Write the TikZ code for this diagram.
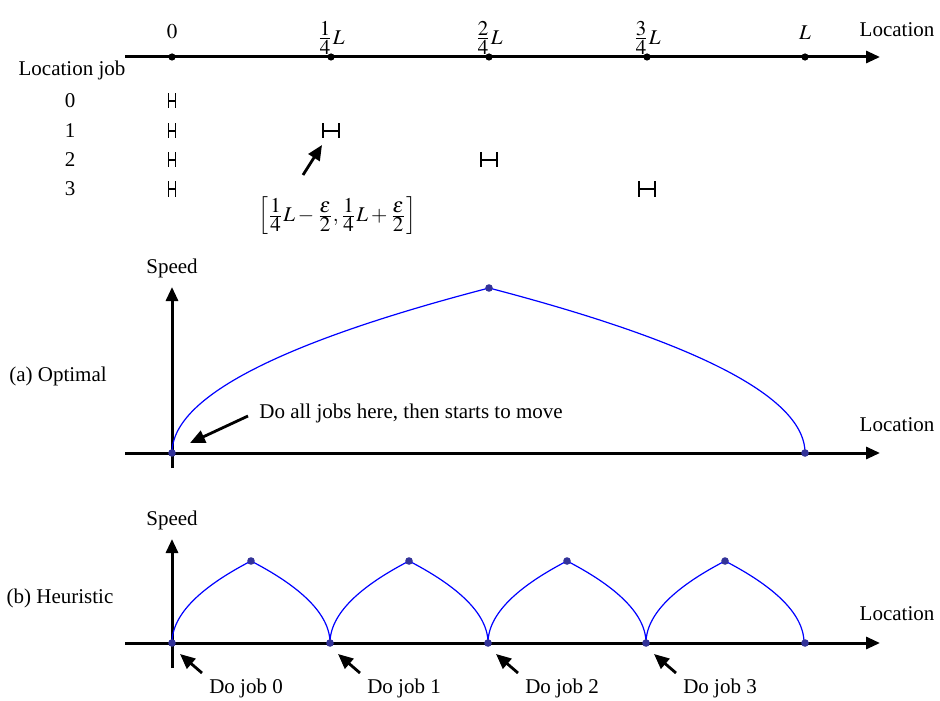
\documentclass[tikz,border=0pt]{standalone}
\usepackage{amsmath}
\usepackage{mathptmx}
\usepackage{fontspec}
\setmainfont{Liberation Serif}
\usetikzlibrary{arrows.meta}

\newcommand{\qfrac}[2]{\frac{\textstyle #1}{\textstyle #2}}

\tikzset{
  axis/.style={line width=1.5pt,-{Triangle[length=7pt,width=6pt]}},
  note/.style={line width=1.4pt,-{Triangle[length=7.5pt,width=6.5pt]}},
  speed/.style={blue,line width=0.6pt},
  bdot/.style={circle,fill=dotblue,inner sep=0pt,minimum size=3.8pt},
  kdot/.style={circle,fill=black,inner sep=0pt,minimum size=3.6pt},
  lbl/.style={inner sep=1pt},
  ival/.style={line width=0.55pt}
}

\begin{document}
\begin{tikzpicture}[x=0.5pt,y=-0.5pt,font=\fontsize{10.5}{12}\selectfont]
  \definecolor{dotblue}{HTML}{333399}
  \useasboundingbox (0,0) rectangle (940,700);
  % job locations on the line
  \draw[axis] (125,57) -- (880,57);
  \foreach \i/\x in {0/172,1/331,2/489,3/647,4/805} {
    \node[kdot] (t\i) at (\x,57) {};
  }
  \node[lbl] (tl0) at (172,32) {$0$};
  \node[lbl] (tl1) at (331,38) {$\qfrac{1}{4}L$};
  \node[lbl] (tl2) at (489,38) {$\qfrac{2}{4}L$};
  \node[lbl] (tl3) at (647,38) {$\qfrac{3}{4}L$};
  \node[lbl] (tl4) at (805,33) {$L$};
  \node[lbl] (loc1) at (897,30) {Location};
  \node[lbl] (jobhead) at (72,70) {Location job};
  \foreach \i/\y in {0/101,1/131,2/160,3/189} {
    \node[lbl] (row\i) at (70,\y) {\i};
    \draw[ival] (168.5,\y-7.5) -- (168.5,\y+7.5) (168.5,\y) -- (175.5,\y)
                (175.5,\y-7.5) -- (175.5,\y+7.5);
  }
  \foreach \x/\y in {331/131,489/160,647/189} {
    \draw[ival] (\x-8,\y-7.5) -- (\x-8,\y+7.5) (\x-8,\y) -- (\x+8,\y)
                (\x+8,\y-7.5) -- (\x+8,\y+7.5);
  }
  \node[lbl] (eps) at (337,216)
    {$\left[\qfrac{1}{4}L-\qfrac{\varepsilon}{2},\qfrac{1}{4}L+\qfrac{\varepsilon}{2}\right]$};
  \coordinate (epst) at (303,175);
  \coordinate (epsh) at (322,145);
  \draw[note] (epst) -- (epsh);

  % (a) optimal
  \node[lbl] (opt) at (58,376) {(a) Optimal};
  \draw[axis] (125,453) -- (880,453);
  \draw[axis] (172,468) -- (172,287);
  \node[lbl] (spa) at (172,268) {Speed};
  \node[lbl] (loc2) at (897,425) {Location};
  \draw[speed,variable=\s,domain=0:1,samples=60]
    plot ({172+317*\s*\s},{453-165*\s});
  \draw[speed,variable=\s,domain=0:1,samples=60]
    plot ({805-316*\s*\s},{453-165*\s});
  \node[bdot] (a0) at (172,453) {};
  \node[bdot] (a1) at (489,288) {};
  \node[bdot] (a2) at (805,453) {};
  \node[lbl,anchor=west] (alljobs) at (257,413) {Do all jobs here, then starts to move};
  \coordinate (allt) at (248,416);
  \draw[note] (allt) -- (190,443);

  % (b) heuristic
  \node[lbl] (heu) at (60,598) {(b) Heuristic};
  \draw[axis] (125,643) -- (880,643);
  \draw[axis] (172,668) -- (172,539);
  \node[lbl] (spb) at (172,520) {Speed};
  \node[lbl] (loc3) at (897,614) {Location};
  \foreach \k in {0,...,3} {
    \pgfmathsetmacro{\xo}{172+158*\k}
    \draw[speed,variable=\s,domain=0:1,samples=40]
      plot ({\xo+79*\s*\s},{643-82*\s});
    \draw[speed,variable=\s,domain=0:1,samples=40]
      plot ({\xo+158-79*\s*\s},{643-82*\s});
    \node[bdot] (p\k) at (\xo+79,561) {};
    \node[bdot] (b\k) at (\xo,643) {};
    \node[lbl] (dj\k) at (\xo+74,688) {Do job \k};
    \coordinate (djt\k) at (\xo+30,673);
    \draw[note] (djt\k) -- ([xshift=4pt,yshift=-5.5pt]b\k.center);
  }
  \node[bdot] (b4) at (805,643) {};
\end{tikzpicture}
\end{document}
